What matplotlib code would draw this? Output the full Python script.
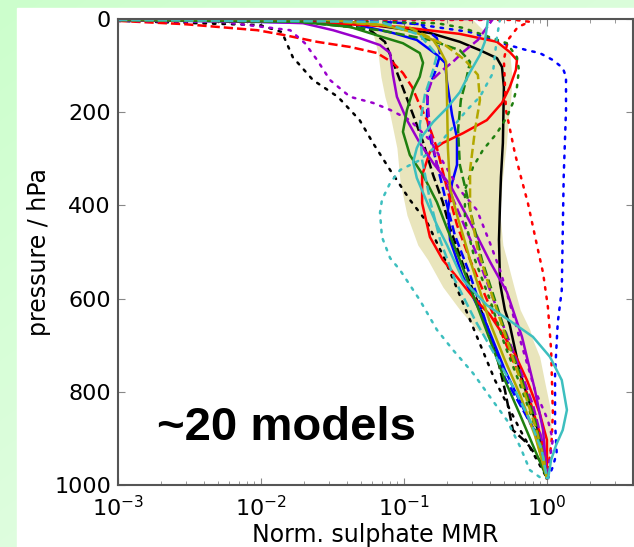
import numpy as np
import matplotlib
matplotlib.use("Agg")
import matplotlib.pyplot as plt
from matplotlib.patches import Rectangle

# normalised sulphate mass mixing ratio profiles, (pressure hPa, value) per model
p_k_dot = [4, 13, 28, 82, 131, 167, 217, 266, 324, 388, 436, 517, 646, 775, 882, 957, 985]
x_k_dot = [0.001, 0.0098, 0.014, 0.0167, 0.0231, 0.0345, 0.049, 0.0607, 0.080, 0.110, 0.145, 0.194, 0.29, 0.433, 0.65, 0.89, 1.0]

p_k_dash = [2, 6, 24, 49, 92, 148, 206, 264, 335, 393, 449, 539, 646, 732, 796, 882, 910, 953, 985]
x_k_dash = [0.001, 0.0304, 0.058, 0.0736, 0.0838, 0.0984, 0.116, 0.136, 0.160, 0.187, 0.210, 0.267, 0.368, 0.454, 0.508, 0.578, 0.725, 0.92, 1.0]

p_k_line = [2, 6, 30, 49, 67, 84, 103, 146, 266, 339, 395, 474, 567, 624, 657, 760, 846, 918, 985]
x_k_line = [0.001, 0.042, 0.152, 0.246, 0.340, 0.447, 0.485, 0.500, 0.492, 0.477, 0.470, 0.462, 0.470, 0.508, 0.55, 0.65, 0.798, 0.94, 1.0]

p_b_dot = [2, 6, 28, 52, 67, 73, 88, 105, 124, 195, 339, 582, 652, 760, 867, 931, 961, 985]
x_b_dot = [0.001, 0.094, 0.29, 0.485, 0.725, 0.89, 1.10, 1.29, 1.36, 1.36, 1.31, 1.27, 1.19, 1.14, 1.14, 1.17, 1.10, 1.02]

p_b_line = [2, 9, 30, 45, 77, 94, 135, 206, 255, 313, 352, 410, 474, 549, 657, 753, 822, 886, 985]
x_b_line = [0.001, 0.042, 0.0838, 0.123, 0.170, 0.194, 0.200, 0.217, 0.235, 0.235, 0.217, 0.203, 0.210, 0.255, 0.380, 0.508, 0.65, 0.824, 1.0]

p_b_dash = [2, 2, 11, 41, 77, 114, 152, 210, 253, 296, 339, 399, 464, 549, 678, 770, 835, 893, 985]
x_b_dash = [0.001, 0.042, 0.129, 0.170, 0.179, 0.165, 0.147, 0.145, 0.152, 0.165, 0.179, 0.200, 0.227, 0.29, 0.40, 0.508, 0.669, 0.851, 1.0]

p_r_dot = [2, 2, 6, 17, 45, 88, 195, 288, 339, 395, 485, 545, 618, 710, 846, 903, 957, 985]
x_r_dot = [0.001, 0.60, 0.76, 0.627, 0.533, 0.50, 0.517, 0.597, 0.658, 0.736, 0.851, 0.94, 1.016, 1.07, 1.10, 1.08, 1.03, 1.0]

p_r_line = [2, 6, 17, 32, 49, 71, 88, 109, 146, 180, 217, 245, 266, 285, 335, 395, 468, 517, 554, 597, 635, 710, 775, 846, 903, 985]
x_r_line = [0.001, 0.0187, 0.094, 0.246, 0.447, 0.55, 0.617, 0.607, 0.55, 0.485, 0.380, 0.259, 0.187, 0.152, 0.134, 0.134, 0.152, 0.187, 0.235, 0.304, 0.40, 0.578, 0.725, 0.89, 1.0, 1.0]

p_r_dash = [4, 11, 24, 34, 49, 60, 73, 94, 116, 146, 185, 217, 277, 363, 442, 517, 592, 667, 743, 818, 903, 985]
x_r_dash = [0.001, 0.0029, 0.0094, 0.0143, 0.0247, 0.042, 0.0648, 0.0838, 0.0984, 0.114, 0.129, 0.145, 0.170, 0.200, 0.235, 0.29, 0.368, 0.47, 0.597, 0.76, 0.92, 1.0]

p_m_dot = [4, 6, 24, 52, 88, 131, 167, 180, 195, 217, 260, 367, 410, 481, 539, 588, 689, 796, 861, 903, 957, 985]
x_m_dot = [0.001, 0.0052, 0.016, 0.0203, 0.0247, 0.0304, 0.042, 0.0607, 0.080, 0.110, 0.152, 0.246, 0.324, 0.40, 0.47, 0.525, 0.65, 0.824, 1.016, 1.10, 1.03, 1.0]

p_m_dash = [0, 0, 24, 45, 71, 92, 109, 131, 163, 238, 313, 356, 421, 496, 582, 667, 753, 828, 903, 985]
x_m_dash = [0.001, 0.419, 0.368, 0.329, 0.259, 0.220, 0.187, 0.157, 0.145, 0.152, 0.170, 0.200, 0.246, 0.314, 0.40, 0.508, 0.65, 0.798, 0.92, 1.0]

p_m_line = [2, 4, 9, 24, 41, 56, 73, 120, 167, 217, 266, 309, 356, 436, 521, 586, 682, 796, 882, 985]
x_m_line = [0.001, 0.0061, 0.0197, 0.0319, 0.049, 0.068, 0.080, 0.0838, 0.0893, 0.105, 0.129, 0.160, 0.210, 0.29, 0.40, 0.525, 0.669, 0.824, 0.94, 1.0]

p_g_line = [2, 6, 17, 39, 52, 73, 94, 124, 152, 195, 242, 292, 335, 393, 449, 517, 603, 689, 775, 850, 925, 985]
x_g_line = [0.001, 0.0187, 0.042, 0.0713, 0.0984, 0.129, 0.136, 0.129, 0.116, 0.105, 0.0984, 0.110, 0.136, 0.170, 0.200, 0.246, 0.314, 0.40, 0.508, 0.65, 0.824, 1.0]

p_g_dash = [2, 6, 24, 45, 67, 92, 131, 174, 238, 313, 378, 436, 517, 603, 689, 775, 861, 936, 985]
x_g_dash = [0.001, 0.0187, 0.068, 0.152, 0.246, 0.29, 0.272, 0.250, 0.239, 0.246, 0.276, 0.304, 0.351, 0.433, 0.533, 0.669, 0.824, 0.94, 1.0]

p_g_dot = [2, 4, 9, 19, 34, 52, 82, 109, 146, 180, 210, 245, 281, 318, 367, 431, 517, 603, 700, 785, 861, 936, 985]
x_g_dot = [0.001, 0.0187, 0.170, 0.259, 0.357, 0.525, 0.617, 0.637, 0.617, 0.578, 0.525, 0.447, 0.357, 0.304, 0.267, 0.267, 0.314, 0.40, 0.508, 0.65, 0.798, 0.94, 1.0]

p_y_line = [0, 0, 13, 30, 45, 67, 92, 170, 277, 363, 421, 464, 517, 652, 732, 807, 893, 985]
x_y_line = [0.001, 0.0247, 0.0713, 0.123, 0.160, 0.179, 0.197, 0.200, 0.203, 0.210, 0.235, 0.259, 0.29, 0.40, 0.508, 0.65, 0.824, 1.0]

p_y_dash = [2, 4, 19, 56, 88, 120, 174, 238, 324, 410, 496, 592, 689, 785, 871, 936, 985]
x_y_dash = [0.001, 0.0304, 0.110, 0.194, 0.267, 0.329, 0.340, 0.314, 0.29, 0.29, 0.329, 0.412, 0.525, 0.669, 0.824, 0.94, 1.0]

p_c_line = [0, 49, 77, 114, 157, 191, 221, 249, 277, 307, 341, 393, 442, 485, 560, 614, 652, 682, 725, 775, 839, 882, 914, 946, 985]
x_c_line = [0.387, 0.368, 0.340, 0.29, 0.246, 0.200, 0.160, 0.136, 0.123, 0.116, 0.123, 0.145, 0.170, 0.200, 0.259, 0.380, 0.578, 0.798, 1.05, 1.27, 1.38, 1.29, 1.16, 1.07, 1.02]

p_c_dot = [0, 39, 116, 167, 195, 232, 266, 303, 324, 352, 388, 416, 468, 513, 539, 603, 667, 710, 760, 811, 861, 918, 968, 983, 985]
x_c_dot = [0.47, 0.447, 0.419, 0.340, 0.276, 0.220, 0.179, 0.129, 0.094, 0.080, 0.0702, 0.068, 0.0702, 0.080, 0.094, 0.129, 0.170, 0.220, 0.304, 0.40, 0.525, 0.65, 0.76, 0.89, 1.0]

p_c_dash = [2, 6, 34, 77, 109, 163, 227, 303, 388, 474, 560, 646, 721, 796, 861, 925, 985]
x_c_dash = [0.001, 0.068, 0.129, 0.170, 0.160, 0.140, 0.129, 0.134, 0.152, 0.179, 0.227, 0.314, 0.433, 0.597, 0.76, 0.92, 1.0]

# model spread envelope
p_band = [0, 2, 39, 73, 124, 167, 206, 277, 350, 421, 485, 517, 575, 624, 667, 689, 725, 781, 833, 876, 925, 946, 985]
x_band_lo = [0.058, 0.058, 0.0617, 0.0658, 0.069, 0.0736, 0.080, 0.0893, 0.094, 0.105, 0.125, 0.147, 0.187, 0.246, 0.324, 0.40, 0.47, 0.578, 0.669, 0.76, 0.88, 0.94, 1.0]
x_band_hi = [0.304, 0.304, 0.40, 0.55, 0.569, 0.56, 0.542, 0.517, 0.485, 0.47, 0.492, 0.525, 0.588, 0.65, 0.76, 0.798, 0.89, 0.968, 1.05, 1.07, 1.05, 1.03, 1.0]

y_ticks = [0, 200, 400, 600, 800, 1000]

BLACK, BLUE, GREEN, RED = "k", "#0000ff", "#1f7f10", "#ff0000"
PURPLE, OLIVE, CYAN = "#9a00cc", "#b3a800", "#3dbfbf"

profiles = [
    (p_k_dot, x_k_dot, BLACK, ":"), (p_k_dash, x_k_dash, BLACK, "--"), (p_k_line, x_k_line, BLACK, "-"),
    (p_b_dot, x_b_dot, BLUE, ":"), (p_b_line, x_b_line, BLUE, "-"), (p_b_dash, x_b_dash, BLUE, "--"),
    (p_r_dot, x_r_dot, RED, ":"), (p_r_line, x_r_line, RED, "-"), (p_r_dash, x_r_dash, RED, "--"),
    (p_m_dot, x_m_dot, PURPLE, ":"), (p_m_dash, x_m_dash, PURPLE, "--"), (p_m_line, x_m_line, PURPLE, "-"),
    (p_g_line, x_g_line, GREEN, "-"), (p_g_dash, x_g_dash, GREEN, "--"), (p_g_dot, x_g_dot, GREEN, ":"),
    (p_y_line, x_y_line, OLIVE, "-"), (p_y_dash, x_y_dash, OLIVE, "--"),
    (p_c_line, x_c_line, CYAN, "-"), (p_c_dot, x_c_dot, CYAN, ":"), (p_c_dash, x_c_dash, CYAN, "--"),
]

W, H = 634, 547
fig = plt.figure(figsize=(W / 100, H / 100), dpi=100)

# green slide background with a white panel
bg = fig.add_axes([0, 0, 1, 1])
yy, xx = np.mgrid[0:H, 0:W]
t = 0.55 * yy / H + 0.45 * xx / W
base = np.array([0.80, 1.0, 0.80])
light = np.array([0.93, 0.99, 0.93])
img = base + (light - base) * t[..., None]
bg.imshow(img, extent=[0, W, H, 0], aspect="auto")
bg.add_patch(Rectangle((17, 8), W - 17, H - 8, color="white"))
bg.set_xlim(0, W)
bg.set_ylim(H, 0)
bg.axis("off")

ax = fig.add_axes([118 / W, 1 - 485 / H, (633 - 118) / W, (485 - 19) / H])
ax.fill_betweenx(p_band, x_band_lo, x_band_hi, color="#e9e5bc", lw=0, zorder=1)
for p, x, col, ls in profiles:
    line, = ax.plot(x, p, color=col, ls=ls, lw=1.8, zorder=2)
    if ls == ":":
        line.set_dashes([1, 2.8])
        line.set_dash_capstyle("round")

ax.set_xscale("log")
ax.set_xlim(1e-3, 4)
ax.set_ylim(1000, 0)
ax.set_yticks(y_ticks)

for s in ax.spines.values():
    s.set_color("#555555")
    s.set_linewidth(1.5)
ax.tick_params(which="both", direction="in", top=True, right=True, colors="#888888",
               labelcolor="black", labelsize=16)
ax.tick_params(which="major", length=5)
ax.tick_params(which="minor", length=3)
ax.tick_params(axis="x", pad=7)
ax.tick_params(axis="y", pad=5)

ax.set_ylabel("pressure / hPa", fontsize=17, labelpad=2)
ax.set_xlabel("Norm. sulphate MMR", fontsize=17, labelpad=2)

ax.text(0.075, 0.123, "~20 models", transform=ax.transAxes, fontsize=34,
        fontweight="bold", family="Liberation Sans", ha="left", va="center")

fig.savefig("out.png", dpi=100)
